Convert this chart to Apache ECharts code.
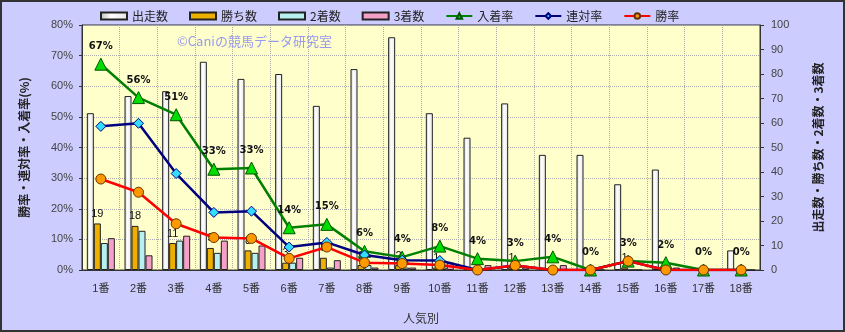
<!DOCTYPE html>
<html><head><meta charset="utf-8">
<script src="https://cdn.jsdelivr.net/npm/echarts@6/dist/echarts.min.js"></script>
<style>html,body{margin:0;padding:0;background:#ccccff;}#c{width:845px;height:332px;}</style>
</head><body><div id="c"></div>
<script>
const categories = ['1番','2番','3番','4番','5番','6番','7番','8番','9番','10番','11番','12番','13番','14番','15番','16番','17番','18番'];
const starters = [64,71,73,85,78,80,67,82,95,64,54,68,47,47,35,41,0,8];
const wins     = [19,18,11,9,8,3,5,2,2,1,0,1,0,0,1,0,0,0];
const seconds  = [11,16,12,7,7,3,1,2,1,1,0,0,0,0,0,0,0,0];
const thirds   = [13,6,14,12,10,5,4,1,1,3,2,1,2,0,0,1,0,0];
const placeRate  = [67.2,56.3,50.7,32.9,33.3,13.8,14.9,6.1,4.2,7.8,3.7,2.9,4.3,0,2.9,2.4,0,0];
const quinRate   = [46.9,47.9,31.5,18.8,19.2,7.5,9.0,4.9,3.2,3.1,0,1.5,0,0,2.9,0,0,0];
const winRate    = [29.7,25.4,15.1,10.6,10.3,3.8,7.5,2.4,2.1,1.6,0,1.5,0,0,2.9,0,0,0];
const leftTicks = {min:0, max:80, interval:10};
const rightTicks = {min:0, max:100, interval:10};

const FONT = "'Liberation Sans','Noto Sans CJK JP',sans-serif";
const chart = echarts.init(document.getElementById('c'), null, {renderer:'canvas'});
const barBorder = {borderColor:'#222', borderWidth:1};
chart.setOption({
  animation:false,
  backgroundColor:'#ccccff',
  textStyle:{fontFamily:FONT},
  graphic:[
    {type:'rect', shape:{x:1,y:1,width:843,height:330}, style:{fill:'none', stroke:'#333', lineWidth:2}, z:100},
    {type:'text', left:177, top:35, style:{text:'©Caniの競馬データ研究室', fill:'#9999ee', font:"13px 'Noto Sans CJK JP'"}, z:1}
  ],
  legend:{
    left:95, top:5, itemWidth:26, itemHeight:7, itemGap:21,
    textStyle:{fontSize:12, color:'#222', fontFamily:"'Noto Sans CJK JP'"},
    data:[
      {name:'出走数', icon:'rect'},{name:'勝ち数', icon:'rect'},{name:'2着数', icon:'rect'},{name:'3着数', icon:'rect'},
      {name:'入着率'},{name:'連対率'},{name:'勝率'}
    ]
  },
  grid:{left:82, right:85, top:25, bottom:62, show:true, backgroundColor:'#ffffcc', borderColor:'#333', borderWidth:1},
  xAxis:{
    type:'category', data:categories, boundaryGap:true,
    axisLine:{lineStyle:{color:'#333'}}, axisTick:{show:false},
    axisLabel:{fontSize:11, color:'#333', margin:13, fontFamily:FONT, interval:0},
    splitLine:{show:true, interval:0, lineStyle:{color:'#aaa', type:'dotted'}},
    name:'人気別', nameLocation:'middle', nameGap:42,
    nameTextStyle:{fontSize:12, color:'#333', fontFamily:"'Noto Sans CJK JP'"}
  },
  yAxis:[
    {type:'value', min:leftTicks.min, max:leftTicks.max, interval:leftTicks.interval, position:'left',
     axisLine:{show:true, lineStyle:{color:'#333'}}, axisTick:{show:true, length:3, lineStyle:{color:'#333'}},
     axisLabel:{formatter:'{value}%', fontSize:11, color:'#444', margin:9},
     splitLine:{show:true, lineStyle:{color:'#aaa', type:'dotted'}},
     name:'勝率・連対率・入着率(%)', nameLocation:'middle', nameRotate:90, nameGap:52,
     nameTextStyle:{fontSize:12, color:'#222', fontWeight:'bold', fontFamily:"'Noto Sans CJK JP'"}},
    {type:'value', min:rightTicks.min, max:rightTicks.max, interval:rightTicks.interval, position:'right',
     axisLine:{show:true, lineStyle:{color:'#333'}}, axisTick:{show:true, length:4, lineStyle:{color:'#333'}},
     axisLabel:{fontSize:11, color:'#444', margin:11},
     splitLine:{show:false},
     name:'出走数・勝ち数・2着数・3着数', nameLocation:'middle', nameRotate:90, nameGap:52,
     nameTextStyle:{fontSize:12, color:'#222', fontWeight:'bold', fontFamily:"'Noto Sans CJK JP'"}}
  ],
  series:[
    {name:'出走数', type:'bar', yAxisIndex:1, data:starters, barWidth:7, barGap:'0%', z:2,
     itemStyle:Object.assign({color:{type:'linear',x:0,y:0,x2:1,y2:0,colorStops:[{offset:0,color:'#bdbdbd'},{offset:0.4,color:'#ffffff'},{offset:1,color:'#e6e6e6'}]}}, barBorder)},
    {name:'勝ち数', type:'bar', yAxisIndex:1, data:wins, barWidth:7, barGap:'0%', z:2,
     itemStyle:Object.assign({color:'#eeb000'}, barBorder),
     label:{show:true, position:'top', distance:4, fontSize:11, color:'#111', formatter:p=>p.value>0?String(p.value):''}},
    {name:'2着数', type:'bar', yAxisIndex:1, data:seconds, barWidth:7, barGap:'0%', z:2,
     itemStyle:Object.assign({color:'#b8f0f0'}, barBorder)},
    {name:'3着数', type:'bar', yAxisIndex:1, data:thirds, barWidth:7, barGap:'0%', z:2,
     itemStyle:Object.assign({color:'#f4a0c8'}, barBorder)},
    {name:'入着率', type:'line', yAxisIndex:0, data:placeRate, z:5,
     lineStyle:{color:'#008000', width:2.5}, symbol:'triangle', symbolSize:12,
     itemStyle:{color:'#00dd00', borderColor:'#005500', borderWidth:1},
     label:{show:true, position:'top', distance:6, fontSize:10, fontWeight:'bold', color:'#111', fontFamily:"'DejaVu Sans'", formatter:p=>Math.round(p.value)+'%'}},
    {name:'連対率', type:'line', yAxisIndex:0, data:quinRate, z:6,
     lineStyle:{color:'#000080', width:2.5}, symbol:'diamond', symbolSize:10,
     itemStyle:{color:'#33ddff', borderColor:'#000080', borderWidth:1}},
    {name:'勝率', type:'line', yAxisIndex:0, data:winRate, z:7,
     lineStyle:{color:'#ff0000', width:2.5}, symbol:'circle', symbolSize:10,
     itemStyle:{color:'#ff9900', borderColor:'#663300', borderWidth:1}}
  ]
});
</script></body></html>
